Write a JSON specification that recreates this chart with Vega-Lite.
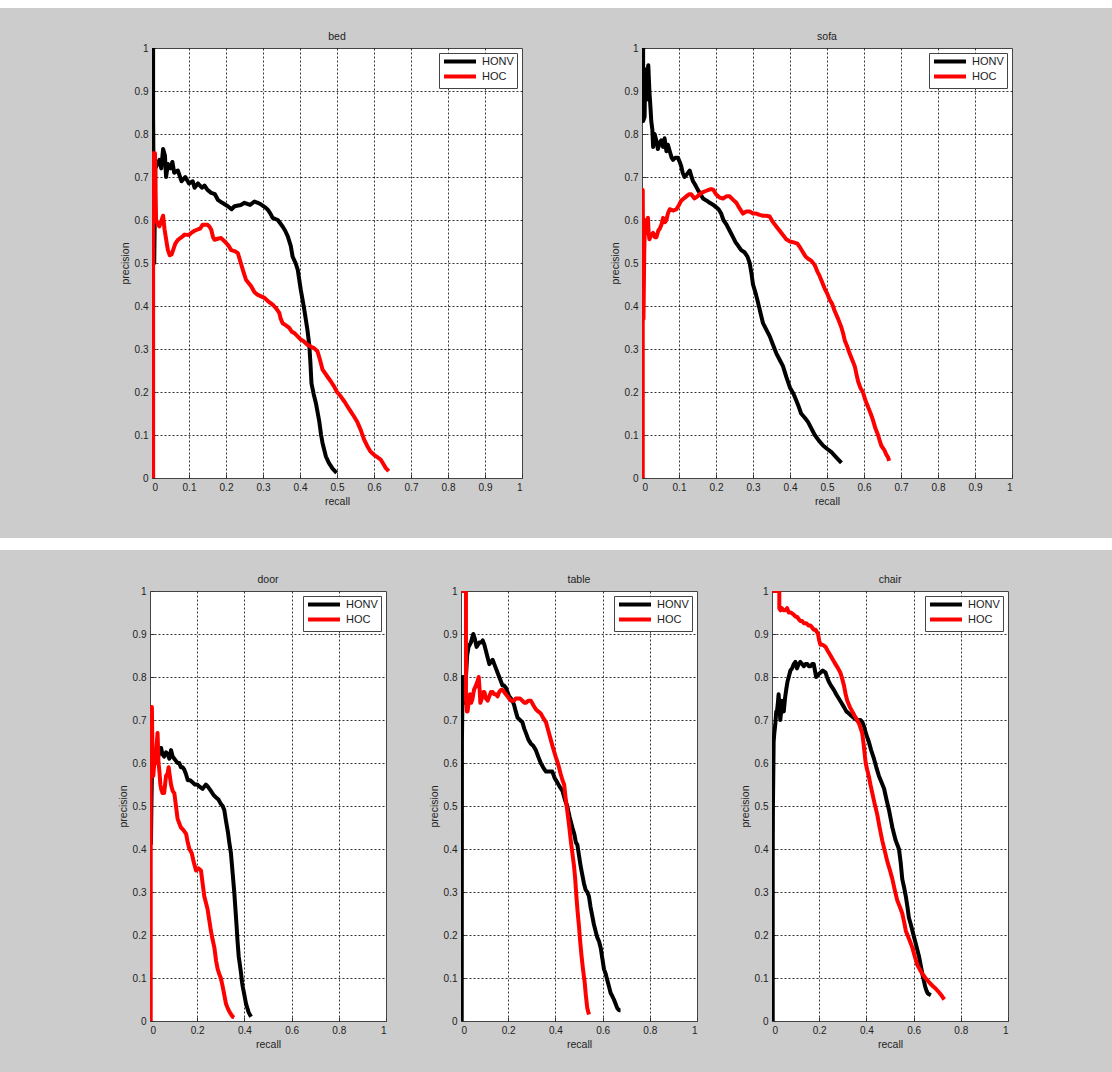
{
"$schema": "https://vega.github.io/schema/vega-lite/v6.json",
"background": "#cccccc",
"padding": 0,
"spacing": 0,
"config": {
  "view": {"stroke": "#444444", "fill": "white", "strokeWidth": 1},
  "font": "Liberation Sans",
  "axis": {
    "grid": true, "gridColor": "#000000", "gridDash": [2, 2], "gridWidth": 0.8,
    "gridOpacity": {"condition": {"test": "datum.value === 0 || datum.value === 1", "value": 0}, "value": 1},
    "domain": false, "tickColor": "#333333", "tickSize": -4, "labelPadding": 8,
    "labelFont": "Liberation Sans", "labelFontSize": 10, "labelColor": "#222222", "format": "~g",
    "titleFont": "Liberation Sans", "titleFontSize": 10.5, "titleFontWeight": "normal", "titleColor": "#222222", "titlePadding": 4
  },
  "legend": {
    "orient": "top-right", "offset": 5, "strokeColor": "#444444", "fillColor": "white", "padding": 3,
    "symbolType": "M-4.57,0H4.57", "symbolSize": 49, "symbolStrokeWidth": 4, "symbolOffset": 12.5, "labelOffset": 16.5,
    "labelFont": "Liberation Sans", "labelFontSize": 11, "labelColor": "#222222", "rowPadding": -2
  },
  "title": {"font": "Liberation Sans", "fontSize": 10.5, "fontWeight": "normal", "color": "#222222", "offset": 1}
},
"datasets": {
"bed": [
{"m":"HONV","r":0.003,"p":1.0},{"m":"HONV","r":0.003,"p":0.84},{"m":"HONV","r":0.006,"p":0.5},{"m":"HONV","r":0.009,"p":0.72},{"m":"HONV","r":0.014,"p":0.73},{"m":"HONV","r":0.02,"p":0.74},{"m":"HONV","r":0.025,"p":0.72},{"m":"HONV","r":0.03,"p":0.765},{"m":"HONV","r":0.035,"p":0.75},{"m":"HONV","r":0.038,"p":0.7},{"m":"HONV","r":0.043,"p":0.73},{"m":"HONV","r":0.05,"p":0.72},{"m":"HONV","r":0.055,"p":0.735},{"m":"HONV","r":0.06,"p":0.71},{"m":"HONV","r":0.07,"p":0.715},{"m":"HONV","r":0.08,"p":0.69},{"m":"HONV","r":0.09,"p":0.7},{"m":"HONV","r":0.1,"p":0.685},{"m":"HONV","r":0.11,"p":0.69},{"m":"HONV","r":0.115,"p":0.675},{"m":"HONV","r":0.124,"p":0.685},{"m":"HONV","r":0.135,"p":0.675},{"m":"HONV","r":0.142,"p":0.68},{"m":"HONV","r":0.15,"p":0.67},{"m":"HONV","r":0.16,"p":0.663},{"m":"HONV","r":0.17,"p":0.66},{"m":"HONV","r":0.178,"p":0.647},{"m":"HONV","r":0.19,"p":0.64},{"m":"HONV","r":0.205,"p":0.632},{"m":"HONV","r":0.215,"p":0.625},{"m":"HONV","r":0.223,"p":0.632},{"m":"HONV","r":0.24,"p":0.635},{"m":"HONV","r":0.25,"p":0.64},{"m":"HONV","r":0.265,"p":0.635},{"m":"HONV","r":0.277,"p":0.643},{"m":"HONV","r":0.286,"p":0.64},{"m":"HONV","r":0.295,"p":0.636},{"m":"HONV","r":0.305,"p":0.63},{"m":"HONV","r":0.313,"p":0.624},{"m":"HONV","r":0.32,"p":0.615},{"m":"HONV","r":0.326,"p":0.605},{"m":"HONV","r":0.34,"p":0.6},{"m":"HONV","r":0.353,"p":0.585},{"m":"HONV","r":0.36,"p":0.575},{"m":"HONV","r":0.367,"p":0.562},{"m":"HONV","r":0.375,"p":0.54},{"m":"HONV","r":0.38,"p":0.515},{"m":"HONV","r":0.388,"p":0.5},{"m":"HONV","r":0.394,"p":0.484},{"m":"HONV","r":0.402,"p":0.438},{"m":"HONV","r":0.41,"p":0.4},{"m":"HONV","r":0.42,"p":0.345},{"m":"HONV","r":0.425,"p":0.31},{"m":"HONV","r":0.428,"p":0.27},{"m":"HONV","r":0.431,"p":0.22},{"m":"HONV","r":0.437,"p":0.195},{"m":"HONV","r":0.443,"p":0.174},{"m":"HONV","r":0.452,"p":0.132},{"m":"HONV","r":0.457,"p":0.1},{"m":"HONV","r":0.461,"p":0.081},{"m":"HONV","r":0.47,"p":0.05},{"m":"HONV","r":0.478,"p":0.035},{"m":"HONV","r":0.488,"p":0.022},{"m":"HONV","r":0.499,"p":0.012},
{"m":"HOC","r":0.003,"p":0},{"m":"HOC","r":0.003,"p":0.755},{"m":"HOC","r":0.008,"p":0.755},{"m":"HOC","r":0.011,"p":0.6},{"m":"HOC","r":0.016,"p":0.59},{"m":"HOC","r":0.02,"p":0.585},{"m":"HOC","r":0.026,"p":0.6},{"m":"HOC","r":0.03,"p":0.61},{"m":"HOC","r":0.034,"p":0.578},{"m":"HOC","r":0.04,"p":0.545},{"m":"HOC","r":0.043,"p":0.53},{"m":"HOC","r":0.048,"p":0.518},{"m":"HOC","r":0.053,"p":0.52},{"m":"HOC","r":0.057,"p":0.53},{"m":"HOC","r":0.063,"p":0.545},{"m":"HOC","r":0.07,"p":0.554},{"m":"HOC","r":0.08,"p":0.56},{"m":"HOC","r":0.088,"p":0.566},{"m":"HOC","r":0.1,"p":0.565},{"m":"HOC","r":0.106,"p":0.57},{"m":"HOC","r":0.115,"p":0.575},{"m":"HOC","r":0.124,"p":0.578},{"m":"HOC","r":0.13,"p":0.58},{"m":"HOC","r":0.137,"p":0.589},{"m":"HOC","r":0.15,"p":0.589},{"m":"HOC","r":0.155,"p":0.585},{"m":"HOC","r":0.16,"p":0.578},{"m":"HOC","r":0.165,"p":0.56},{"m":"HOC","r":0.169,"p":0.554},{"m":"HOC","r":0.18,"p":0.557},{"m":"HOC","r":0.187,"p":0.558},{"m":"HOC","r":0.2,"p":0.547},{"m":"HOC","r":0.207,"p":0.54},{"m":"HOC","r":0.214,"p":0.53},{"m":"HOC","r":0.225,"p":0.527},{"m":"HOC","r":0.232,"p":0.523},{"m":"HOC","r":0.24,"p":0.5},{"m":"HOC","r":0.247,"p":0.48},{"m":"HOC","r":0.254,"p":0.461},{"m":"HOC","r":0.268,"p":0.446},{"m":"HOC","r":0.277,"p":0.432},{"m":"HOC","r":0.286,"p":0.426},{"m":"HOC","r":0.304,"p":0.419},{"m":"HOC","r":0.315,"p":0.41},{"m":"HOC","r":0.326,"p":0.403},{"m":"HOC","r":0.335,"p":0.395},{"m":"HOC","r":0.344,"p":0.384},{"m":"HOC","r":0.348,"p":0.37},{"m":"HOC","r":0.353,"p":0.36},{"m":"HOC","r":0.362,"p":0.355},{"m":"HOC","r":0.371,"p":0.349},{"m":"HOC","r":0.378,"p":0.34},{"m":"HOC","r":0.385,"p":0.337},{"m":"HOC","r":0.393,"p":0.33},{"m":"HOC","r":0.402,"p":0.322},{"m":"HOC","r":0.41,"p":0.318},{"m":"HOC","r":0.42,"p":0.31},{"m":"HOC","r":0.43,"p":0.305},{"m":"HOC","r":0.438,"p":0.302},{"m":"HOC","r":0.447,"p":0.295},{"m":"HOC","r":0.454,"p":0.275},{"m":"HOC","r":0.461,"p":0.252},{"m":"HOC","r":0.474,"p":0.236},{"m":"HOC","r":0.483,"p":0.225},{"m":"HOC","r":0.492,"p":0.213},{"m":"HOC","r":0.5,"p":0.2},{"m":"HOC","r":0.51,"p":0.19},{"m":"HOC","r":0.52,"p":0.178},{"m":"HOC","r":0.528,"p":0.167},{"m":"HOC","r":0.537,"p":0.155},{"m":"HOC","r":0.546,"p":0.143},{"m":"HOC","r":0.555,"p":0.13},{"m":"HOC","r":0.564,"p":0.112},{"m":"HOC","r":0.573,"p":0.09},{"m":"HOC","r":0.582,"p":0.074},{"m":"HOC","r":0.59,"p":0.062},{"m":"HOC","r":0.6,"p":0.054},{"m":"HOC","r":0.61,"p":0.048},{"m":"HOC","r":0.618,"p":0.043},{"m":"HOC","r":0.625,"p":0.033},{"m":"HOC","r":0.632,"p":0.023},{"m":"HOC","r":0.64,"p":0.016}
],
"sofa": [
{"m":"HONV","r":0.003,"p":1.0},{"m":"HONV","r":0.003,"p":0.83},{"m":"HONV","r":0.007,"p":0.84},{"m":"HONV","r":0.009,"p":0.95},{"m":"HONV","r":0.012,"p":0.88},{"m":"HONV","r":0.014,"p":0.94},{"m":"HONV","r":0.017,"p":0.96},{"m":"HONV","r":0.02,"p":0.9},{"m":"HONV","r":0.023,"p":0.86},{"m":"HONV","r":0.025,"p":0.83},{"m":"HONV","r":0.028,"p":0.81},{"m":"HONV","r":0.03,"p":0.77},{"m":"HONV","r":0.034,"p":0.8},{"m":"HONV","r":0.04,"p":0.78},{"m":"HONV","r":0.043,"p":0.765},{"m":"HONV","r":0.048,"p":0.78},{"m":"HONV","r":0.052,"p":0.785},{"m":"HONV","r":0.057,"p":0.77},{"m":"HONV","r":0.061,"p":0.79},{"m":"HONV","r":0.066,"p":0.76},{"m":"HONV","r":0.07,"p":0.775},{"m":"HONV","r":0.075,"p":0.76},{"m":"HONV","r":0.08,"p":0.745},{"m":"HONV","r":0.084,"p":0.74},{"m":"HONV","r":0.09,"p":0.745},{"m":"HONV","r":0.097,"p":0.745},{"m":"HONV","r":0.102,"p":0.735},{"m":"HONV","r":0.106,"p":0.725},{"m":"HONV","r":0.11,"p":0.71},{"m":"HONV","r":0.115,"p":0.7},{"m":"HONV","r":0.12,"p":0.705},{"m":"HONV","r":0.129,"p":0.715},{"m":"HONV","r":0.134,"p":0.7},{"m":"HONV","r":0.138,"p":0.69},{"m":"HONV","r":0.145,"p":0.68},{"m":"HONV","r":0.151,"p":0.67},{"m":"HONV","r":0.158,"p":0.66},{"m":"HONV","r":0.165,"p":0.65},{"m":"HONV","r":0.175,"p":0.645},{"m":"HONV","r":0.183,"p":0.64},{"m":"HONV","r":0.193,"p":0.635},{"m":"HONV","r":0.2,"p":0.63},{"m":"HONV","r":0.207,"p":0.625},{"m":"HONV","r":0.214,"p":0.615},{"m":"HONV","r":0.22,"p":0.6},{"m":"HONV","r":0.228,"p":0.59},{"m":"HONV","r":0.237,"p":0.575},{"m":"HONV","r":0.246,"p":0.56},{"m":"HONV","r":0.253,"p":0.548},{"m":"HONV","r":0.26,"p":0.54},{"m":"HONV","r":0.268,"p":0.53},{"m":"HONV","r":0.277,"p":0.525},{"m":"HONV","r":0.285,"p":0.515},{"m":"HONV","r":0.291,"p":0.5},{"m":"HONV","r":0.296,"p":0.475},{"m":"HONV","r":0.3,"p":0.45},{"m":"HONV","r":0.307,"p":0.43},{"m":"HONV","r":0.313,"p":0.41},{"m":"HONV","r":0.32,"p":0.385},{"m":"HONV","r":0.327,"p":0.36},{"m":"HONV","r":0.336,"p":0.345},{"m":"HONV","r":0.345,"p":0.33},{"m":"HONV","r":0.354,"p":0.31},{"m":"HONV","r":0.363,"p":0.29},{"m":"HONV","r":0.372,"p":0.275},{"m":"HONV","r":0.381,"p":0.26},{"m":"HONV","r":0.39,"p":0.235},{"m":"HONV","r":0.4,"p":0.21},{"m":"HONV","r":0.41,"p":0.195},{"m":"HONV","r":0.417,"p":0.18},{"m":"HONV","r":0.424,"p":0.165},{"m":"HONV","r":0.43,"p":0.15},{"m":"HONV","r":0.44,"p":0.14},{"m":"HONV","r":0.449,"p":0.13},{"m":"HONV","r":0.458,"p":0.115},{"m":"HONV","r":0.467,"p":0.1},{"m":"HONV","r":0.478,"p":0.087},{"m":"HONV","r":0.49,"p":0.075},{"m":"HONV","r":0.5,"p":0.068},{"m":"HONV","r":0.512,"p":0.06},{"m":"HONV","r":0.525,"p":0.048},{"m":"HONV","r":0.539,"p":0.035},
{"m":"HOC","r":0.002,"p":0},{"m":"HOC","r":0.002,"p":0.67},{"m":"HOC","r":0.004,"p":0.37},{"m":"HOC","r":0.006,"p":0.52},{"m":"HOC","r":0.008,"p":0.6},{"m":"HOC","r":0.011,"p":0.57},{"m":"HOC","r":0.013,"p":0.58},{"m":"HOC","r":0.016,"p":0.605},{"m":"HOC","r":0.018,"p":0.57},{"m":"HOC","r":0.02,"p":0.555},{"m":"HOC","r":0.025,"p":0.565},{"m":"HOC","r":0.03,"p":0.57},{"m":"HOC","r":0.035,"p":0.56},{"m":"HOC","r":0.039,"p":0.56},{"m":"HOC","r":0.044,"p":0.575},{"m":"HOC","r":0.048,"p":0.58},{"m":"HOC","r":0.053,"p":0.59},{"m":"HOC","r":0.057,"p":0.605},{"m":"HOC","r":0.062,"p":0.595},{"m":"HOC","r":0.066,"p":0.6},{"m":"HOC","r":0.07,"p":0.615},{"m":"HOC","r":0.075,"p":0.625},{"m":"HOC","r":0.085,"p":0.622},{"m":"HOC","r":0.093,"p":0.625},{"m":"HOC","r":0.1,"p":0.635},{"m":"HOC","r":0.106,"p":0.645},{"m":"HOC","r":0.113,"p":0.65},{"m":"HOC","r":0.12,"p":0.655},{"m":"HOC","r":0.127,"p":0.66},{"m":"HOC","r":0.133,"p":0.66},{"m":"HOC","r":0.142,"p":0.65},{"m":"HOC","r":0.15,"p":0.655},{"m":"HOC","r":0.156,"p":0.66},{"m":"HOC","r":0.165,"p":0.665},{"m":"HOC","r":0.174,"p":0.668},{"m":"HOC","r":0.18,"p":0.67},{"m":"HOC","r":0.187,"p":0.672},{"m":"HOC","r":0.193,"p":0.67},{"m":"HOC","r":0.2,"p":0.66},{"m":"HOC","r":0.21,"p":0.652},{"m":"HOC","r":0.219,"p":0.65},{"m":"HOC","r":0.228,"p":0.655},{"m":"HOC","r":0.237,"p":0.655},{"m":"HOC","r":0.245,"p":0.648},{"m":"HOC","r":0.255,"p":0.64},{"m":"HOC","r":0.263,"p":0.628},{"m":"HOC","r":0.273,"p":0.615},{"m":"HOC","r":0.282,"p":0.62},{"m":"HOC","r":0.291,"p":0.62},{"m":"HOC","r":0.3,"p":0.615},{"m":"HOC","r":0.309,"p":0.615},{"m":"HOC","r":0.318,"p":0.612},{"m":"HOC","r":0.327,"p":0.61},{"m":"HOC","r":0.336,"p":0.61},{"m":"HOC","r":0.345,"p":0.608},{"m":"HOC","r":0.354,"p":0.595},{"m":"HOC","r":0.363,"p":0.585},{"m":"HOC","r":0.372,"p":0.575},{"m":"HOC","r":0.381,"p":0.565},{"m":"HOC","r":0.39,"p":0.555},{"m":"HOC","r":0.4,"p":0.55},{"m":"HOC","r":0.41,"p":0.548},{"m":"HOC","r":0.42,"p":0.545},{"m":"HOC","r":0.428,"p":0.535},{"m":"HOC","r":0.435,"p":0.525},{"m":"HOC","r":0.442,"p":0.515},{"m":"HOC","r":0.449,"p":0.51},{"m":"HOC","r":0.458,"p":0.505},{"m":"HOC","r":0.467,"p":0.495},{"m":"HOC","r":0.474,"p":0.48},{"m":"HOC","r":0.48,"p":0.47},{"m":"HOC","r":0.487,"p":0.455},{"m":"HOC","r":0.494,"p":0.44},{"m":"HOC","r":0.5,"p":0.43},{"m":"HOC","r":0.507,"p":0.415},{"m":"HOC","r":0.514,"p":0.405},{"m":"HOC","r":0.52,"p":0.39},{"m":"HOC","r":0.53,"p":0.37},{"m":"HOC","r":0.539,"p":0.35},{"m":"HOC","r":0.544,"p":0.335},{"m":"HOC","r":0.548,"p":0.32},{"m":"HOC","r":0.555,"p":0.305},{"m":"HOC","r":0.561,"p":0.29},{"m":"HOC","r":0.568,"p":0.275},{"m":"HOC","r":0.575,"p":0.26},{"m":"HOC","r":0.58,"p":0.24},{"m":"HOC","r":0.584,"p":0.225},{"m":"HOC","r":0.59,"p":0.21},{"m":"HOC","r":0.597,"p":0.2},{"m":"HOC","r":0.604,"p":0.18},{"m":"HOC","r":0.611,"p":0.165},{"m":"HOC","r":0.618,"p":0.15},{"m":"HOC","r":0.624,"p":0.135},{"m":"HOC","r":0.631,"p":0.115},{"m":"HOC","r":0.638,"p":0.1},{"m":"HOC","r":0.643,"p":0.085},{"m":"HOC","r":0.647,"p":0.075},{"m":"HOC","r":0.655,"p":0.065},{"m":"HOC","r":0.66,"p":0.055},{"m":"HOC","r":0.665,"p":0.048},{"m":"HOC","r":0.668,"p":0.04}
],
"door": [
{"m":"HONV","r":0.004,"p":0.41},{"m":"HONV","r":0.006,"p":0.5},{"m":"HONV","r":0.008,"p":0.57},{"m":"HONV","r":0.011,"p":0.6},{"m":"HONV","r":0.015,"p":0.63},{"m":"HONV","r":0.02,"p":0.62},{"m":"HONV","r":0.025,"p":0.6},{"m":"HONV","r":0.032,"p":0.61},{"m":"HONV","r":0.04,"p":0.625},{"m":"HONV","r":0.047,"p":0.635},{"m":"HONV","r":0.053,"p":0.62},{"m":"HONV","r":0.06,"p":0.615},{"m":"HONV","r":0.068,"p":0.625},{"m":"HONV","r":0.075,"p":0.62},{"m":"HONV","r":0.082,"p":0.61},{"m":"HONV","r":0.089,"p":0.63},{"m":"HONV","r":0.096,"p":0.615},{"m":"HONV","r":0.103,"p":0.61},{"m":"HONV","r":0.11,"p":0.605},{"m":"HONV","r":0.117,"p":0.6},{"m":"HONV","r":0.124,"p":0.6},{"m":"HONV","r":0.131,"p":0.59},{"m":"HONV","r":0.138,"p":0.59},{"m":"HONV","r":0.145,"p":0.585},{"m":"HONV","r":0.152,"p":0.575},{"m":"HONV","r":0.16,"p":0.56},{"m":"HONV","r":0.17,"p":0.56},{"m":"HONV","r":0.18,"p":0.555},{"m":"HONV","r":0.19,"p":0.55},{"m":"HONV","r":0.2,"p":0.55},{"m":"HONV","r":0.21,"p":0.545},{"m":"HONV","r":0.223,"p":0.54},{"m":"HONV","r":0.23,"p":0.545},{"m":"HONV","r":0.237,"p":0.55},{"m":"HONV","r":0.245,"p":0.545},{"m":"HONV","r":0.258,"p":0.535},{"m":"HONV","r":0.27,"p":0.525},{"m":"HONV","r":0.28,"p":0.52},{"m":"HONV","r":0.29,"p":0.515},{"m":"HONV","r":0.3,"p":0.505},{"m":"HONV","r":0.308,"p":0.5},{"m":"HONV","r":0.315,"p":0.49},{"m":"HONV","r":0.322,"p":0.465},{"m":"HONV","r":0.33,"p":0.44},{"m":"HONV","r":0.336,"p":0.415},{"m":"HONV","r":0.343,"p":0.39},{"m":"HONV","r":0.35,"p":0.345},{"m":"HONV","r":0.357,"p":0.3},{"m":"HONV","r":0.362,"p":0.26},{"m":"HONV","r":0.367,"p":0.22},{"m":"HONV","r":0.371,"p":0.185},{"m":"HONV","r":0.376,"p":0.15},{"m":"HONV","r":0.381,"p":0.13},{"m":"HONV","r":0.386,"p":0.11},{"m":"HONV","r":0.39,"p":0.09},{"m":"HONV","r":0.393,"p":0.08},{"m":"HONV","r":0.4,"p":0.06},{"m":"HONV","r":0.407,"p":0.04},{"m":"HONV","r":0.418,"p":0.02},{"m":"HONV","r":0.428,"p":0.01},
{"m":"HOC","r":0.003,"p":0},{"m":"HOC","r":0.003,"p":0.73},{"m":"HOC","r":0.008,"p":0.73},{"m":"HOC","r":0.011,"p":0.6},{"m":"HOC","r":0.014,"p":0.57},{"m":"HOC","r":0.018,"p":0.6},{"m":"HOC","r":0.023,"p":0.6},{"m":"HOC","r":0.028,"p":0.64},{"m":"HOC","r":0.032,"p":0.67},{"m":"HOC","r":0.036,"p":0.6},{"m":"HOC","r":0.04,"p":0.58},{"m":"HOC","r":0.044,"p":0.55},{"m":"HOC","r":0.047,"p":0.54},{"m":"HOC","r":0.053,"p":0.53},{"m":"HOC","r":0.06,"p":0.53},{"m":"HOC","r":0.064,"p":0.55},{"m":"HOC","r":0.068,"p":0.57},{"m":"HOC","r":0.074,"p":0.575},{"m":"HOC","r":0.079,"p":0.59},{"m":"HOC","r":0.084,"p":0.57},{"m":"HOC","r":0.089,"p":0.55},{"m":"HOC","r":0.096,"p":0.535},{"m":"HOC","r":0.103,"p":0.53},{"m":"HOC","r":0.11,"p":0.5},{"m":"HOC","r":0.117,"p":0.47},{"m":"HOC","r":0.124,"p":0.46},{"m":"HOC","r":0.131,"p":0.45},{"m":"HOC","r":0.14,"p":0.445},{"m":"HOC","r":0.153,"p":0.435},{"m":"HOC","r":0.16,"p":0.415},{"m":"HOC","r":0.167,"p":0.4},{"m":"HOC","r":0.177,"p":0.39},{"m":"HOC","r":0.185,"p":0.37},{"m":"HOC","r":0.195,"p":0.35},{"m":"HOC","r":0.205,"p":0.355},{"m":"HOC","r":0.216,"p":0.35},{"m":"HOC","r":0.223,"p":0.32},{"m":"HOC","r":0.23,"p":0.29},{"m":"HOC","r":0.237,"p":0.275},{"m":"HOC","r":0.244,"p":0.26},{"m":"HOC","r":0.251,"p":0.235},{"m":"HOC","r":0.258,"p":0.21},{"m":"HOC","r":0.265,"p":0.19},{"m":"HOC","r":0.273,"p":0.17},{"m":"HOC","r":0.28,"p":0.14},{"m":"HOC","r":0.287,"p":0.12},{"m":"HOC","r":0.293,"p":0.11},{"m":"HOC","r":0.3,"p":0.1},{"m":"HOC","r":0.308,"p":0.08},{"m":"HOC","r":0.315,"p":0.06},{"m":"HOC","r":0.322,"p":0.04},{"m":"HOC","r":0.329,"p":0.03},{"m":"HOC","r":0.338,"p":0.02},{"m":"HOC","r":0.35,"p":0.01},{"m":"HOC","r":0.357,"p":0.008}
],
"table": [
{"m":"HONV","r":0.003,"p":0},{"m":"HONV","r":0.004,"p":0.65},{"m":"HONV","r":0.007,"p":0.8},{"m":"HONV","r":0.01,"p":0.8},{"m":"HONV","r":0.014,"p":0.74},{"m":"HONV","r":0.018,"p":0.78},{"m":"HONV","r":0.021,"p":0.8},{"m":"HONV","r":0.026,"p":0.85},{"m":"HONV","r":0.032,"p":0.87},{"m":"HONV","r":0.037,"p":0.875},{"m":"HONV","r":0.042,"p":0.88},{"m":"HONV","r":0.047,"p":0.89},{"m":"HONV","r":0.052,"p":0.9},{"m":"HONV","r":0.058,"p":0.89},{"m":"HONV","r":0.066,"p":0.87},{"m":"HONV","r":0.072,"p":0.875},{"m":"HONV","r":0.077,"p":0.88},{"m":"HONV","r":0.085,"p":0.88},{"m":"HONV","r":0.092,"p":0.885},{"m":"HONV","r":0.099,"p":0.875},{"m":"HONV","r":0.106,"p":0.86},{"m":"HONV","r":0.113,"p":0.845},{"m":"HONV","r":0.12,"p":0.83},{"m":"HONV","r":0.127,"p":0.835},{"m":"HONV","r":0.134,"p":0.84},{"m":"HONV","r":0.141,"p":0.83},{"m":"HONV","r":0.148,"p":0.82},{"m":"HONV","r":0.155,"p":0.81},{"m":"HONV","r":0.162,"p":0.8},{"m":"HONV","r":0.169,"p":0.79},{"m":"HONV","r":0.176,"p":0.78},{"m":"HONV","r":0.183,"p":0.78},{"m":"HONV","r":0.19,"p":0.775},{"m":"HONV","r":0.197,"p":0.765},{"m":"HONV","r":0.204,"p":0.755},{"m":"HONV","r":0.212,"p":0.75},{"m":"HONV","r":0.218,"p":0.745},{"m":"HONV","r":0.225,"p":0.735},{"m":"HONV","r":0.232,"p":0.72},{"m":"HONV","r":0.24,"p":0.705},{"m":"HONV","r":0.25,"p":0.7},{"m":"HONV","r":0.26,"p":0.695},{"m":"HONV","r":0.268,"p":0.68},{"m":"HONV","r":0.275,"p":0.67},{"m":"HONV","r":0.285,"p":0.655},{"m":"HONV","r":0.296,"p":0.645},{"m":"HONV","r":0.306,"p":0.64},{"m":"HONV","r":0.317,"p":0.63},{"m":"HONV","r":0.327,"p":0.615},{"m":"HONV","r":0.338,"p":0.6},{"m":"HONV","r":0.348,"p":0.59},{"m":"HONV","r":0.36,"p":0.58},{"m":"HONV","r":0.375,"p":0.58},{"m":"HONV","r":0.387,"p":0.58},{"m":"HONV","r":0.397,"p":0.565},{"m":"HONV","r":0.408,"p":0.555},{"m":"HONV","r":0.418,"p":0.545},{"m":"HONV","r":0.43,"p":0.535},{"m":"HONV","r":0.44,"p":0.515},{"m":"HONV","r":0.45,"p":0.5},{"m":"HONV","r":0.46,"p":0.475},{"m":"HONV","r":0.472,"p":0.45},{"m":"HONV","r":0.48,"p":0.435},{"m":"HONV","r":0.487,"p":0.415},{"m":"HONV","r":0.493,"p":0.41},{"m":"HONV","r":0.5,"p":0.385},{"m":"HONV","r":0.507,"p":0.36},{"m":"HONV","r":0.514,"p":0.34},{"m":"HONV","r":0.521,"p":0.32},{"m":"HONV","r":0.528,"p":0.305},{"m":"HONV","r":0.535,"p":0.3},{"m":"HONV","r":0.542,"p":0.29},{"m":"HONV","r":0.549,"p":0.265},{"m":"HONV","r":0.556,"p":0.245},{"m":"HONV","r":0.563,"p":0.225},{"m":"HONV","r":0.57,"p":0.21},{"m":"HONV","r":0.577,"p":0.195},{"m":"HONV","r":0.585,"p":0.185},{"m":"HONV","r":0.592,"p":0.17},{"m":"HONV","r":0.599,"p":0.145},{"m":"HONV","r":0.606,"p":0.12},{"m":"HONV","r":0.613,"p":0.11},{"m":"HONV","r":0.62,"p":0.095},{"m":"HONV","r":0.627,"p":0.08},{"m":"HONV","r":0.634,"p":0.065},{"m":"HONV","r":0.641,"p":0.058},{"m":"HONV","r":0.648,"p":0.05},{"m":"HONV","r":0.655,"p":0.04},{"m":"HONV","r":0.662,"p":0.03},{"m":"HONV","r":0.67,"p":0.025},{"m":"HONV","r":0.676,"p":0.025},
{"m":"HOC","r":0.003,"p":1.0},{"m":"HOC","r":0.021,"p":1.0},{"m":"HOC","r":0.021,"p":0.75},{"m":"HOC","r":0.025,"p":0.72},{"m":"HOC","r":0.028,"p":0.72},{"m":"HOC","r":0.033,"p":0.745},{"m":"HOC","r":0.038,"p":0.76},{"m":"HOC","r":0.043,"p":0.74},{"m":"HOC","r":0.049,"p":0.75},{"m":"HOC","r":0.055,"p":0.77},{"m":"HOC","r":0.063,"p":0.78},{"m":"HOC","r":0.07,"p":0.79},{"m":"HOC","r":0.075,"p":0.8},{"m":"HOC","r":0.079,"p":0.77},{"m":"HOC","r":0.082,"p":0.74},{"m":"HOC","r":0.088,"p":0.75},{"m":"HOC","r":0.095,"p":0.765},{"m":"HOC","r":0.099,"p":0.765},{"m":"HOC","r":0.106,"p":0.75},{"m":"HOC","r":0.113,"p":0.745},{"m":"HOC","r":0.12,"p":0.755},{"m":"HOC","r":0.127,"p":0.765},{"m":"HOC","r":0.134,"p":0.765},{"m":"HOC","r":0.141,"p":0.76},{"m":"HOC","r":0.148,"p":0.76},{"m":"HOC","r":0.155,"p":0.755},{"m":"HOC","r":0.162,"p":0.765},{"m":"HOC","r":0.169,"p":0.77},{"m":"HOC","r":0.176,"p":0.77},{"m":"HOC","r":0.183,"p":0.765},{"m":"HOC","r":0.19,"p":0.76},{"m":"HOC","r":0.197,"p":0.755},{"m":"HOC","r":0.204,"p":0.75},{"m":"HOC","r":0.211,"p":0.745},{"m":"HOC","r":0.218,"p":0.745},{"m":"HOC","r":0.225,"p":0.745},{"m":"HOC","r":0.232,"p":0.75},{"m":"HOC","r":0.24,"p":0.75},{"m":"HOC","r":0.25,"p":0.75},{"m":"HOC","r":0.26,"p":0.745},{"m":"HOC","r":0.268,"p":0.74},{"m":"HOC","r":0.275,"p":0.74},{"m":"HOC","r":0.285,"p":0.745},{"m":"HOC","r":0.296,"p":0.745},{"m":"HOC","r":0.306,"p":0.735},{"m":"HOC","r":0.317,"p":0.725},{"m":"HOC","r":0.327,"p":0.72},{"m":"HOC","r":0.338,"p":0.715},{"m":"HOC","r":0.348,"p":0.705},{"m":"HOC","r":0.36,"p":0.695},{"m":"HOC","r":0.37,"p":0.675},{"m":"HOC","r":0.38,"p":0.655},{"m":"HOC","r":0.39,"p":0.635},{"m":"HOC","r":0.401,"p":0.615},{"m":"HOC","r":0.41,"p":0.6},{"m":"HOC","r":0.415,"p":0.59},{"m":"HOC","r":0.422,"p":0.575},{"m":"HOC","r":0.43,"p":0.56},{"m":"HOC","r":0.437,"p":0.55},{"m":"HOC","r":0.443,"p":0.52},{"m":"HOC","r":0.45,"p":0.49},{"m":"HOC","r":0.458,"p":0.455},{"m":"HOC","r":0.465,"p":0.42},{"m":"HOC","r":0.472,"p":0.39},{"m":"HOC","r":0.479,"p":0.36},{"m":"HOC","r":0.484,"p":0.33},{"m":"HOC","r":0.489,"p":0.29},{"m":"HOC","r":0.494,"p":0.255},{"m":"HOC","r":0.5,"p":0.22},{"m":"HOC","r":0.505,"p":0.185},{"m":"HOC","r":0.511,"p":0.15},{"m":"HOC","r":0.517,"p":0.12},{"m":"HOC","r":0.524,"p":0.09},{"m":"HOC","r":0.529,"p":0.06},{"m":"HOC","r":0.535,"p":0.03},{"m":"HOC","r":0.542,"p":0.015}
],
"chair": [
{"m":"HONV","r":0.003,"p":0},{"m":"HONV","r":0.003,"p":0.37},{"m":"HONV","r":0.004,"p":0.5},{"m":"HONV","r":0.007,"p":0.65},{"m":"HONV","r":0.01,"p":0.67},{"m":"HONV","r":0.014,"p":0.69},{"m":"HONV","r":0.018,"p":0.72},{"m":"HONV","r":0.021,"p":0.72},{"m":"HONV","r":0.025,"p":0.74},{"m":"HONV","r":0.028,"p":0.76},{"m":"HONV","r":0.032,"p":0.73},{"m":"HONV","r":0.035,"p":0.7},{"m":"HONV","r":0.039,"p":0.72},{"m":"HONV","r":0.042,"p":0.745},{"m":"HONV","r":0.046,"p":0.73},{"m":"HONV","r":0.05,"p":0.72},{"m":"HONV","r":0.055,"p":0.75},{"m":"HONV","r":0.06,"p":0.77},{"m":"HONV","r":0.066,"p":0.79},{"m":"HONV","r":0.071,"p":0.8},{"m":"HONV","r":0.078,"p":0.815},{"m":"HONV","r":0.085,"p":0.82},{"m":"HONV","r":0.092,"p":0.83},{"m":"HONV","r":0.099,"p":0.835},{"m":"HONV","r":0.103,"p":0.825},{"m":"HONV","r":0.106,"p":0.82},{"m":"HONV","r":0.113,"p":0.83},{"m":"HONV","r":0.12,"p":0.835},{"m":"HONV","r":0.128,"p":0.83},{"m":"HONV","r":0.135,"p":0.825},{"m":"HONV","r":0.142,"p":0.83},{"m":"HONV","r":0.15,"p":0.83},{"m":"HONV","r":0.156,"p":0.825},{"m":"HONV","r":0.163,"p":0.825},{"m":"HONV","r":0.17,"p":0.83},{"m":"HONV","r":0.177,"p":0.83},{"m":"HONV","r":0.182,"p":0.815},{"m":"HONV","r":0.187,"p":0.8},{"m":"HONV","r":0.195,"p":0.805},{"m":"HONV","r":0.205,"p":0.81},{"m":"HONV","r":0.215,"p":0.815},{"m":"HONV","r":0.227,"p":0.81},{"m":"HONV","r":0.233,"p":0.8},{"m":"HONV","r":0.24,"p":0.79},{"m":"HONV","r":0.25,"p":0.78},{"m":"HONV","r":0.262,"p":0.77},{"m":"HONV","r":0.272,"p":0.76},{"m":"HONV","r":0.283,"p":0.75},{"m":"HONV","r":0.294,"p":0.74},{"m":"HONV","r":0.305,"p":0.73},{"m":"HONV","r":0.315,"p":0.72},{"m":"HONV","r":0.326,"p":0.715},{"m":"HONV","r":0.336,"p":0.71},{"m":"HONV","r":0.347,"p":0.705},{"m":"HONV","r":0.36,"p":0.7},{"m":"HONV","r":0.375,"p":0.7},{"m":"HONV","r":0.383,"p":0.695},{"m":"HONV","r":0.39,"p":0.685},{"m":"HONV","r":0.4,"p":0.665},{"m":"HONV","r":0.41,"p":0.65},{"m":"HONV","r":0.42,"p":0.63},{"m":"HONV","r":0.432,"p":0.61},{"m":"HONV","r":0.442,"p":0.59},{"m":"HONV","r":0.453,"p":0.57},{"m":"HONV","r":0.464,"p":0.555},{"m":"HONV","r":0.475,"p":0.54},{"m":"HONV","r":0.485,"p":0.515},{"m":"HONV","r":0.496,"p":0.49},{"m":"HONV","r":0.503,"p":0.47},{"m":"HONV","r":0.51,"p":0.45},{"m":"HONV","r":0.517,"p":0.435},{"m":"HONV","r":0.524,"p":0.42},{"m":"HONV","r":0.531,"p":0.41},{"m":"HONV","r":0.538,"p":0.4},{"m":"HONV","r":0.545,"p":0.37},{"m":"HONV","r":0.552,"p":0.33},{"m":"HONV","r":0.56,"p":0.31},{"m":"HONV","r":0.567,"p":0.29},{"m":"HONV","r":0.574,"p":0.265},{"m":"HONV","r":0.58,"p":0.24},{"m":"HONV","r":0.588,"p":0.225},{"m":"HONV","r":0.595,"p":0.21},{"m":"HONV","r":0.602,"p":0.195},{"m":"HONV","r":0.609,"p":0.18},{"m":"HONV","r":0.616,"p":0.165},{"m":"HONV","r":0.623,"p":0.15},{"m":"HONV","r":0.63,"p":0.13},{"m":"HONV","r":0.637,"p":0.11},{"m":"HONV","r":0.643,"p":0.095},{"m":"HONV","r":0.649,"p":0.08},{"m":"HONV","r":0.655,"p":0.07},{"m":"HONV","r":0.659,"p":0.065},{"m":"HONV","r":0.666,"p":0.062},{"m":"HONV","r":0.673,"p":0.06},
{"m":"HOC","r":0.003,"p":1.0},{"m":"HOC","r":0.031,"p":1.0},{"m":"HOC","r":0.031,"p":0.96},{"m":"HOC","r":0.036,"p":0.955},{"m":"HOC","r":0.042,"p":0.96},{"m":"HOC","r":0.05,"p":0.955},{"m":"HOC","r":0.057,"p":0.955},{"m":"HOC","r":0.064,"p":0.96},{"m":"HOC","r":0.071,"p":0.95},{"m":"HOC","r":0.08,"p":0.95},{"m":"HOC","r":0.092,"p":0.945},{"m":"HOC","r":0.1,"p":0.94},{"m":"HOC","r":0.106,"p":0.94},{"m":"HOC","r":0.113,"p":0.935},{"m":"HOC","r":0.12,"p":0.93},{"m":"HOC","r":0.128,"p":0.93},{"m":"HOC","r":0.135,"p":0.925},{"m":"HOC","r":0.145,"p":0.925},{"m":"HOC","r":0.155,"p":0.92},{"m":"HOC","r":0.163,"p":0.92},{"m":"HOC","r":0.17,"p":0.915},{"m":"HOC","r":0.177,"p":0.91},{"m":"HOC","r":0.184,"p":0.91},{"m":"HOC","r":0.19,"p":0.905},{"m":"HOC","r":0.195,"p":0.9},{"m":"HOC","r":0.2,"p":0.885},{"m":"HOC","r":0.205,"p":0.875},{"m":"HOC","r":0.215,"p":0.875},{"m":"HOC","r":0.227,"p":0.87},{"m":"HOC","r":0.237,"p":0.86},{"m":"HOC","r":0.248,"p":0.85},{"m":"HOC","r":0.258,"p":0.84},{"m":"HOC","r":0.269,"p":0.83},{"m":"HOC","r":0.28,"p":0.82},{"m":"HOC","r":0.29,"p":0.81},{"m":"HOC","r":0.298,"p":0.795},{"m":"HOC","r":0.305,"p":0.78},{"m":"HOC","r":0.312,"p":0.76},{"m":"HOC","r":0.319,"p":0.745},{"m":"HOC","r":0.33,"p":0.73},{"m":"HOC","r":0.34,"p":0.72},{"m":"HOC","r":0.35,"p":0.71},{"m":"HOC","r":0.361,"p":0.7},{"m":"HOC","r":0.37,"p":0.69},{"m":"HOC","r":0.376,"p":0.68},{"m":"HOC","r":0.382,"p":0.67},{"m":"HOC","r":0.387,"p":0.65},{"m":"HOC","r":0.392,"p":0.625},{"m":"HOC","r":0.397,"p":0.6},{"m":"HOC","r":0.403,"p":0.585},{"m":"HOC","r":0.41,"p":0.57},{"m":"HOC","r":0.417,"p":0.55},{"m":"HOC","r":0.425,"p":0.53},{"m":"HOC","r":0.435,"p":0.505},{"m":"HOC","r":0.446,"p":0.48},{"m":"HOC","r":0.456,"p":0.45},{"m":"HOC","r":0.467,"p":0.42},{"m":"HOC","r":0.478,"p":0.395},{"m":"HOC","r":0.489,"p":0.37},{"m":"HOC","r":0.5,"p":0.35},{"m":"HOC","r":0.51,"p":0.33},{"m":"HOC","r":0.52,"p":0.305},{"m":"HOC","r":0.531,"p":0.28},{"m":"HOC","r":0.542,"p":0.265},{"m":"HOC","r":0.552,"p":0.25},{"m":"HOC","r":0.56,"p":0.23},{"m":"HOC","r":0.567,"p":0.21},{"m":"HOC","r":0.574,"p":0.2},{"m":"HOC","r":0.585,"p":0.185},{"m":"HOC","r":0.595,"p":0.17},{"m":"HOC","r":0.605,"p":0.15},{"m":"HOC","r":0.616,"p":0.13},{"m":"HOC","r":0.626,"p":0.12},{"m":"HOC","r":0.637,"p":0.11},{"m":"HOC","r":0.65,"p":0.1},{"m":"HOC","r":0.666,"p":0.09},{"m":"HOC","r":0.68,"p":0.082},{"m":"HOC","r":0.694,"p":0.075},{"m":"HOC","r":0.71,"p":0.065},{"m":"HOC","r":0.72,"p":0.058},{"m":"HOC","r":0.73,"p":0.05}
]
},
"resolve": {"scale": {"color": "independent", "x": "independent", "y": "independent"}, "legend": {"color": "independent"}},
"vconcat": [
  {"width": 1112, "height": 8, "data": {"values": []}, "mark": "point", "view": {"fill": "white", "stroke": null}},
  {"width": 1112, "height": 23, "data": {"values": []}, "mark": "point", "view": {"fill": null, "stroke": null}},
  {
    "spacing": 86,
    "resolve": {"scale": {"color": "independent", "x": "independent", "y": "independent"}, "legend": {"color": "independent"}},
    "hconcat": [
      {"width": 33, "height": 430, "data": {"values": []}, "mark": "point", "view": {"fill": null, "stroke": null}},
      {"title": "bed", "width": 370, "height": 430, "data": {"name": "bed"},
       "mark": {"type": "line", "strokeWidth": 4, "clip": true, "strokeJoin": "round"},
       "encoding": {
         "x": {"field": "r", "type": "quantitative", "title": "recall", "scale": {"domain": [0, 1], "nice": false}, "axis": {"values": [0, 0.1, 0.2, 0.3, 0.4, 0.5, 0.6, 0.7, 0.8, 0.9, 1]}},
         "y": {"field": "p", "type": "quantitative", "title": "precision", "scale": {"domain": [0, 1], "nice": false}, "axis": {"values": [0, 0.1, 0.2, 0.3, 0.4, 0.5, 0.6, 0.7, 0.8, 0.9, 1]}},
         "color": {"field": "m", "type": "nominal", "scale": {"domain": ["HONV", "HOC"], "range": ["#000000", "#ff0000"]}, "legend": {"title": null}},
         "order": {"value": null}
       }},
      {"title": "sofa", "width": 370, "height": 430, "data": {"name": "sofa"},
       "mark": {"type": "line", "strokeWidth": 4, "clip": true, "strokeJoin": "round"},
       "encoding": {
         "x": {"field": "r", "type": "quantitative", "title": "recall", "scale": {"domain": [0, 1], "nice": false}, "axis": {"values": [0, 0.1, 0.2, 0.3, 0.4, 0.5, 0.6, 0.7, 0.8, 0.9, 1]}},
         "y": {"field": "p", "type": "quantitative", "title": "precision", "scale": {"domain": [0, 1], "nice": false}, "axis": {"values": [0, 0.1, 0.2, 0.3, 0.4, 0.5, 0.6, 0.7, 0.8, 0.9, 1]}},
         "color": {"field": "m", "type": "nominal", "scale": {"domain": ["HONV", "HOC"], "range": ["#000000", "#ff0000"]}, "legend": {"title": null}},
         "order": {"value": null}
       }}
    ]
  },
  {"width": 1112, "height": 31, "data": {"values": []}, "mark": "point", "view": {"fill": null, "stroke": null}},
  {"width": 1112, "height": 12, "data": {"values": []}, "mark": "point", "view": {"fill": "white", "stroke": null}},
  {"width": 1112, "height": 24, "data": {"values": []}, "mark": "point", "view": {"fill": null, "stroke": null}},
  {
    "spacing": 41,
    "resolve": {"scale": {"color": "independent", "x": "independent", "y": "independent"}, "legend": {"color": "independent"}},
    "hconcat": [
      {"width": 76, "height": 430, "data": {"values": []}, "mark": "point", "view": {"fill": null, "stroke": null}},
      {"title": "door", "width": 236, "height": 430, "data": {"name": "door"},
       "mark": {"type": "line", "strokeWidth": 4, "clip": true, "strokeJoin": "round"},
       "encoding": {
         "x": {"field": "r", "type": "quantitative", "title": "recall", "scale": {"domain": [0, 1], "nice": false}, "axis": {"values": [0, 0.2, 0.4, 0.6, 0.8, 1]}},
         "y": {"field": "p", "type": "quantitative", "title": "precision", "scale": {"domain": [0, 1], "nice": false}, "axis": {"values": [0, 0.1, 0.2, 0.3, 0.4, 0.5, 0.6, 0.7, 0.8, 0.9, 1]}},
         "color": {"field": "m", "type": "nominal", "scale": {"domain": ["HONV", "HOC"], "range": ["#000000", "#ff0000"]}, "legend": {"title": null}},
         "order": {"value": null}
       }},
      {"title": "table", "width": 236, "height": 430, "data": {"name": "table"},
       "mark": {"type": "line", "strokeWidth": 4, "clip": true, "strokeJoin": "round"},
       "encoding": {
         "x": {"field": "r", "type": "quantitative", "title": "recall", "scale": {"domain": [0, 1], "nice": false}, "axis": {"values": [0, 0.2, 0.4, 0.6, 0.8, 1]}},
         "y": {"field": "p", "type": "quantitative", "title": "precision", "scale": {"domain": [0, 1], "nice": false}, "axis": {"values": [0, 0.1, 0.2, 0.3, 0.4, 0.5, 0.6, 0.7, 0.8, 0.9, 1]}},
         "color": {"field": "m", "type": "nominal", "scale": {"domain": ["HONV", "HOC"], "range": ["#000000", "#ff0000"]}, "legend": {"title": null}},
         "order": {"value": null}
       }},
      {"title": "chair", "width": 236, "height": 430, "data": {"name": "chair"},
       "mark": {"type": "line", "strokeWidth": 4, "clip": true, "strokeJoin": "round"},
       "encoding": {
         "x": {"field": "r", "type": "quantitative", "title": "recall", "scale": {"domain": [0, 1], "nice": false}, "axis": {"values": [0, 0.2, 0.4, 0.6, 0.8, 1]}},
         "y": {"field": "p", "type": "quantitative", "title": "precision", "scale": {"domain": [0, 1], "nice": false}, "axis": {"values": [0, 0.1, 0.2, 0.3, 0.4, 0.5, 0.6, 0.7, 0.8, 0.9, 1]}},
         "color": {"field": "m", "type": "nominal", "scale": {"domain": ["HONV", "HOC"], "range": ["#000000", "#ff0000"]}, "legend": {"title": null}},
         "order": {"value": null}
       }}
    ]
  },
  {"width": 1112, "height": 34, "data": {"values": []}, "mark": "point", "view": {"fill": null, "stroke": null}}
]
}
